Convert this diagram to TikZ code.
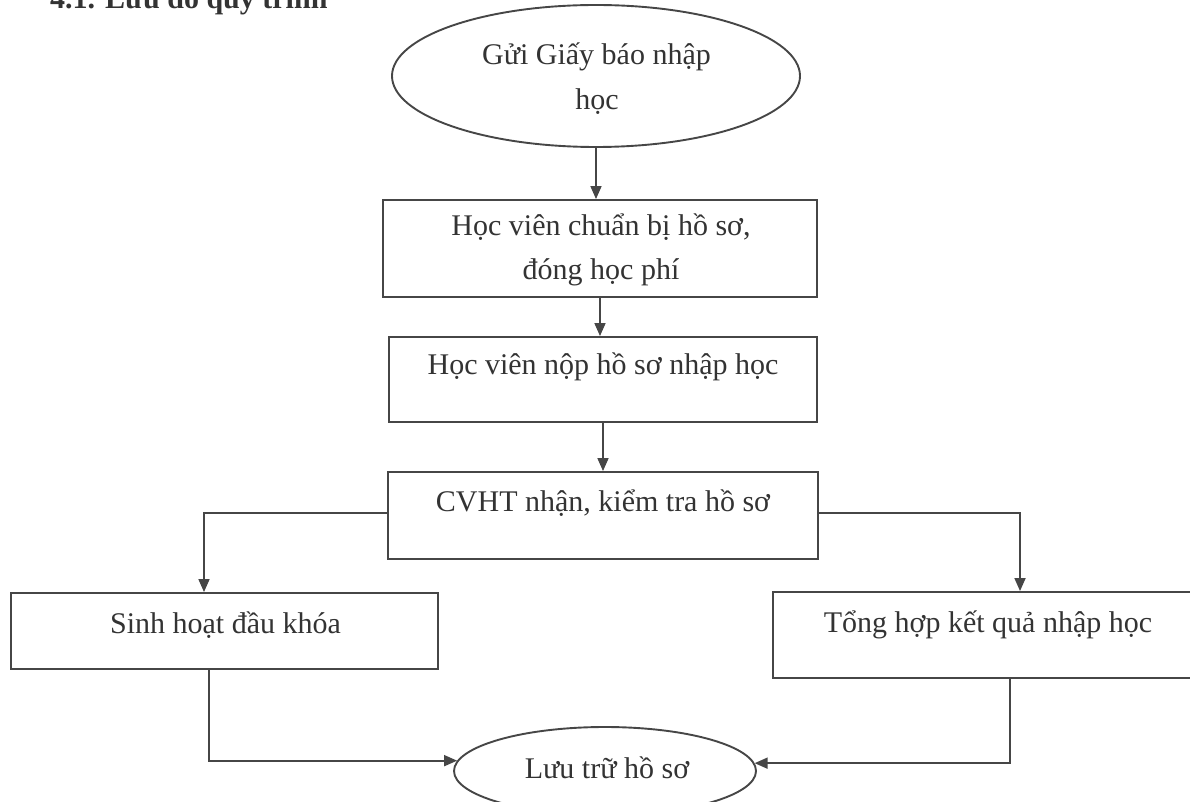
\documentclass[tikz,border=0pt]{standalone}
\usepackage{fontspec}
\setmainfont{Liberation Serif}
\usetikzlibrary{arrows.meta,shapes.geometric}
\definecolor{inkc}{HTML}{333333}
\definecolor{linec}{HTML}{464646}
\tikzset{
  boxshape/.style={draw=linec, line width=1.9pt, rectangle, inner sep=0pt},
  ovalshape/.style={draw=linec, line width=1.9pt, ellipse, inner sep=0pt},
  lbl/.style={anchor=base, inner sep=0pt, text=inkc, font=\fontsize{30}{36}\selectfont},
  conn/.style={draw=linec, line width=1.7pt, -{Triangle[length=13pt,width=11pt]}}
}
\begin{document}
\begin{tikzpicture}[x=1pt,y=-1pt]
\useasboundingbox (0,0) rectangle (1190,802);
% title (cut at the top in the reference)
\node[anchor=base west, inner sep=0pt, text=inkc, font=\fontsize{30}{36}\selectfont\bfseries] (title) at (50,9) {4.1. Lưu đồ quy trình};
% shapes
\node[ovalshape, minimum width=408pt, minimum height=142pt] (e1) at (596,76) {};
\node[boxshape, minimum width=434pt, minimum height=97pt] (b1) at (600,248.5) {};
\node[boxshape, minimum width=428pt, minimum height=85pt] (b2) at (603,379.5) {};
\node[boxshape, minimum width=430pt, minimum height=87pt] (b3) at (603,515.5) {};
\node[boxshape, minimum width=427pt, minimum height=76pt] (bl) at (224.5,631) {};
\node[boxshape, minimum width=430pt, minimum height=86pt] (br) at (988,635) {};
\node[ovalshape, minimum width=302pt, minimum height=88pt] (e2) at (605,771) {};
% texts
\node[lbl] (t1a) at (596.5,65) {Gửi Giấy báo nhập};
\node[lbl] (t1b) at (597,110) {học};
\node[lbl] (t2a) at (601,236) {Học viên chuẩn bị hồ sơ,};
\node[lbl] (t2b) at (601,279) {đóng học phí};
\node[lbl] (t3) at (603,374) {Học viên nộp hồ sơ nhập học};
\node[lbl] (t4) at (603,511) {CVHT nhận, kiểm tra hồ sơ};
\node[lbl] (t5) at (225.5,633) {Sinh hoạt đầu khóa};
\node[lbl] (t6) at (988,632) {Tổng hợp kết quả nhập học};
\node[lbl] (t7) at (607,778) {Lưu trữ hồ sơ};
% connectors
\draw[conn] (e1.south) -- (e1.south |- b1.north);
\draw[conn] (b1.south) -- (b1.south |- b2.north);
\draw[conn] (b2.south) -- (b2.south |- b3.north);
\draw[conn] ([yshift=2.5pt]b3.west) -| ([xshift=-20.5pt]bl.north);
\draw[conn] ([yshift=2.5pt]b3.east) -| ([xshift=32pt]br.north);
\draw[conn] ([xshift=-15.5pt]bl.south) |- (e2.176);
\draw[conn] ([xshift=22pt]br.south) |- (e2.3);
\end{tikzpicture}
\end{document}
